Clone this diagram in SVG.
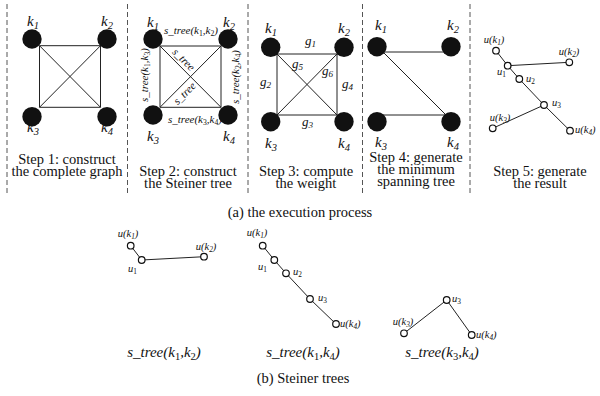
<svg xmlns="http://www.w3.org/2000/svg" width="600" height="396" viewBox="0 0 600 396" font-family="'Liberation Serif', 'Times New Roman', serif">
<style>
.dash{stroke:#555;stroke-width:1;stroke-dasharray:5 3;fill:none}
.e{stroke:#222;stroke-width:1;fill:none}
.k{fill:#111}
.o{fill:#fff;stroke:#111;stroke-width:1.2}
.cap,.kl,.st,.g,.u,.um,.bl{font-family:"Liberation Serif","Times New Roman",serif;fill:#111}
.cap{font-size:14.5px;text-anchor:middle}
.kl{font-size:15px;font-style:italic;text-anchor:middle}
.st{font-size:11px;font-style:italic;text-anchor:middle}
.g{font-size:13px;font-style:italic}
.u{font-size:10.5px;font-style:italic}
.um{font-size:10.5px;font-style:italic;text-anchor:middle}
.bl{font-size:15px;font-style:italic;text-anchor:middle}
.sb{font-size:70%}
.up{font-style:normal}
</style>
<rect width="600" height="396" fill="#fff"/>
<g id="dividers">
<line class="dash" x1="7" y1="4" x2="7" y2="194"/>
<line class="dash" x1="127.5" y1="4" x2="127.5" y2="194"/>
<line class="dash" x1="248" y1="4" x2="248" y2="194"/>
<line class="dash" x1="362.5" y1="4" x2="362.5" y2="194"/>
<line class="dash" x1="470" y1="4" x2="470" y2="194"/>
</g>
<g id="connectors">
<path class="e" d="M39.5,45.7H100.5V107.3H39.5Z M39.5,45.7L100.5,107.3 M100.5,45.7L39.5,107.3"/>
<path class="e" d="M160,46H221V107.3H160Z M160,46L221,107.3 M221,46L160,107.3"/>
<path class="e" d="M277,54H337V115H277Z M277,54L337,115 M337,54L277,115"/>
<path class="e" d="M377,52H451 M384,53L446,115 M377,115H451"/>
<path class="e" d="M496,50.7L507.7,65.7L569.3,62.3 M507.7,65.7L519.3,79L544,105L492.7,128.3 M544,105L570,130.7"/>
<path class="e" d="M130.7,245.7L141.7,260L204,256.7"/>
<path class="e" d="M262.7,245.7L274.3,260L286,273.3L310,299L336,324"/>
<path class="e" d="M404,333.3L446.7,300L471.7,335"/>
</g>
<g id="step1">
<g id="s1k1"><circle class="k" cx="32" cy="39" r="9.7"/><text class="kl" x="33" y="26">k<tspan class="sb" dy="3">1</tspan></text></g>
<g id="s1k2"><circle class="k" cx="107" cy="39" r="9.7"/><text class="kl" x="107" y="26">k<tspan class="sb" dy="3">2</tspan></text></g>
<g id="s1k3"><circle class="k" cx="32" cy="116.7" r="9.7"/><text class="kl" x="33" y="132">k<tspan class="sb" dy="3">3</tspan></text></g>
<g id="s1k4"><circle class="k" cx="107" cy="116.7" r="9.7"/><text class="kl" x="107" y="132">k<tspan class="sb" dy="3">4</tspan></text></g>
<text class="cap" x="67" y="164">Step 1: construct</text>
<text class="cap" x="67" y="176">the complete graph</text>
</g>
<g id="step2">
<g id="s2k1"><circle class="k" cx="153" cy="39" r="9.7"/><text class="kl" x="153" y="27">k<tspan class="sb" dy="3">1</tspan></text></g>
<g id="s2k2"><circle class="k" cx="228" cy="39" r="9.7"/><text class="kl" x="229" y="27">k<tspan class="sb" dy="3">2</tspan></text></g>
<g id="s2k3"><circle class="k" cx="153" cy="115" r="9.7"/><text class="kl" x="153" y="141">k<tspan class="sb" dy="3">3</tspan></text></g>
<g id="s2k4"><circle class="k" cx="228" cy="115" r="9.7"/><text class="kl" x="229" y="141">k<tspan class="sb" dy="3">4</tspan></text></g>
<text class="st" x="191" y="34">s_tree(k<tspan class="sb up" dy="2">1</tspan><tspan dy="-2">,k</tspan><tspan class="sb up" dy="2">2</tspan><tspan dy="-2">)</tspan></text>
<text class="st" transform="translate(148,75) rotate(-90)">s_tree(k<tspan class="sb up" dy="2">1</tspan><tspan dy="-2">,k</tspan><tspan class="sb up" dy="2">3</tspan><tspan dy="-2">)</tspan></text>
<text class="st" transform="translate(239,77) rotate(-90)">s_tree(k<tspan class="sb up" dy="2">2</tspan><tspan dy="-2">,k</tspan><tspan class="sb up" dy="2">4</tspan><tspan dy="-2">)</tspan></text>
<text class="st" x="195" y="123">s_tree(k<tspan class="sb up" dy="2">3</tspan><tspan dy="-2">,k</tspan><tspan class="sb up" dy="2">4</tspan><tspan dy="-2">)</tspan></text>
<text class="st" transform="translate(181,62) rotate(45)">s_tree</text>
<text class="st" transform="translate(187,96) rotate(-45)">s_tree</text>
<text class="cap" x="188" y="176">Step 2: construct</text>
<text class="cap" x="188" y="188">the Steiner tree</text>
</g>
<g id="step3">
<g id="s3k1"><circle class="k" cx="270.7" cy="47.3" r="9.7"/><text class="kl" x="271" y="33">k<tspan class="sb" dy="3">1</tspan></text></g>
<g id="s3k2"><circle class="k" cx="344" cy="47.3" r="9.7"/><text class="kl" x="344" y="33">k<tspan class="sb" dy="3">2</tspan></text></g>
<g id="s3k3"><circle class="k" cx="270.7" cy="121.7" r="9.7"/><text class="kl" x="271" y="148">k<tspan class="sb" dy="3">3</tspan></text></g>
<g id="s3k4"><circle class="k" cx="344" cy="121.7" r="9.7"/><text class="kl" x="344" y="148">k<tspan class="sb" dy="3">4</tspan></text></g>
<text class="g" x="305" y="45">g<tspan class="sb" dy="2">1</tspan></text>
<text class="g" x="292" y="68">g<tspan class="sb" dy="2">5</tspan></text>
<text class="g" x="322" y="75">g<tspan class="sb" dy="2">6</tspan></text>
<text class="g" x="260" y="86">g<tspan class="sb" dy="2">2</tspan></text>
<text class="g" x="342" y="88">g<tspan class="sb" dy="2">4</tspan></text>
<text class="g" x="302" y="126">g<tspan class="sb" dy="2">3</tspan></text>
<text class="cap" x="306" y="176">Step 3: compute</text>
<text class="cap" x="306" y="188">the weight</text>
</g>
<g id="step4">
<g id="s4k1"><circle class="k" cx="377" cy="46.7" r="9.7"/><text class="kl" x="381" y="30">k<tspan class="sb" dy="3">1</tspan></text></g>
<g id="s4k2"><circle class="k" cx="451" cy="46.7" r="9.7"/><text class="kl" x="453" y="30">k<tspan class="sb" dy="3">2</tspan></text></g>
<g id="s4k3"><circle class="k" cx="377" cy="121.7" r="9.7"/><text class="kl" x="381" y="147">k<tspan class="sb" dy="3">3</tspan></text></g>
<g id="s4k4"><circle class="k" cx="451" cy="121.7" r="9.7"/><text class="kl" x="453" y="147">k<tspan class="sb" dy="3">4</tspan></text></g>
<text class="cap" x="416" y="162">Step 4: generate</text>
<text class="cap" x="416" y="174">the minimum</text>
<text class="cap" x="416" y="186">spanning tree</text>
</g>
<g id="step5">
<g id="r_uk1"><circle class="o" cx="496" cy="50.7" r="3.3"/><text class="um" x="494" y="43">u(k<tspan class="sb" dy="2">1</tspan><tspan dy="-2">)</tspan></text></g>
<g id="r_u1"><circle class="o" cx="507.7" cy="65.7" r="3.3"/><text class="u" x="497" y="75">u<tspan class="sb up" dy="2">1</tspan></text></g>
<g id="r_uk2"><circle class="o" cx="569.3" cy="62.3" r="3.3"/><text class="um" x="569" y="55">u(k<tspan class="sb" dy="2">2</tspan><tspan dy="-2">)</tspan></text></g>
<g id="r_u2"><circle class="o" cx="519.3" cy="79" r="3.3"/><text class="u" x="526" y="82">u<tspan class="sb up" dy="2">2</tspan></text></g>
<g id="r_u3"><circle class="o" cx="544" cy="105" r="3.3"/><text class="u" x="552" y="106">u<tspan class="sb up" dy="2">3</tspan></text></g>
<g id="r_uk3"><circle class="o" cx="492.7" cy="128.3" r="3.3"/><text class="um" x="500" y="121">u(k<tspan class="sb" dy="2">3</tspan><tspan dy="-2">)</tspan></text></g>
<g id="r_uk4"><circle class="o" cx="570" cy="130.7" r="3.3"/><text class="u" x="575" y="133">u(k<tspan class="sb" dy="2">4</tspan><tspan dy="-2">)</tspan></text></g>
<text class="cap" x="540" y="176">Step 5: generate</text>
<text class="cap" x="540" y="188">the result</text>
</g>
<text class="cap" x="300" y="217">(a) the execution process</text>
<g id="tree1">
<g id="t1_uk1"><circle class="o" cx="130.7" cy="245.7" r="3.3"/><text class="um" x="128" y="237">u(k<tspan class="sb" dy="2">1</tspan><tspan dy="-2">)</tspan></text></g>
<g id="t1_u1"><circle class="o" cx="141.7" cy="260" r="3.3"/><text class="u" x="128" y="272">u<tspan class="sb up" dy="2">1</tspan></text></g>
<g id="t1_uk2"><circle class="o" cx="204" cy="256.7" r="3.3"/><text class="um" x="206" y="250">u(k<tspan class="sb" dy="2">2</tspan><tspan dy="-2">)</tspan></text></g>
<text class="bl" x="164" y="357">s_tree(k<tspan class="sb up" dy="3">1</tspan><tspan dy="-3">,k</tspan><tspan class="sb up" dy="3">2</tspan><tspan dy="-3">)</tspan></text>
</g>
<g id="tree2">
<g id="t2_uk1"><circle class="o" cx="262.7" cy="245.7" r="3.3"/><text class="um" x="257" y="236">u(k<tspan class="sb" dy="2">1</tspan><tspan dy="-2">)</tspan></text></g>
<g id="t2_u1"><circle class="o" cx="274.3" cy="260" r="3.3"/><text class="u" x="258" y="270">u<tspan class="sb up" dy="2">1</tspan></text></g>
<g id="t2_u2"><circle class="o" cx="286" cy="273.3" r="3.3"/><text class="u" x="293" y="275">u<tspan class="sb up" dy="2">2</tspan></text></g>
<g id="t2_u3"><circle class="o" cx="310" cy="299" r="3.3"/><text class="u" x="318" y="301">u<tspan class="sb up" dy="2">3</tspan></text></g>
<g id="t2_uk4"><circle class="o" cx="336" cy="324" r="3.3"/><text class="u" x="340" y="327">u(k<tspan class="sb" dy="2">4</tspan><tspan dy="-2">)</tspan></text></g>
<text class="bl" x="303" y="357">s_tree(k<tspan class="sb up" dy="3">1</tspan><tspan dy="-3">,k</tspan><tspan class="sb up" dy="3">4</tspan><tspan dy="-3">)</tspan></text>
</g>
<g id="tree3">
<g id="t3_uk3"><circle class="o" cx="404" cy="333.3" r="3.3"/><text class="um" x="403" y="325">u(k<tspan class="sb" dy="2">3</tspan><tspan dy="-2">)</tspan></text></g>
<g id="t3_u3"><circle class="o" cx="446.7" cy="300" r="3.3"/><text class="u" x="452" y="302">u<tspan class="sb up" dy="2">3</tspan></text></g>
<g id="t3_uk4"><circle class="o" cx="471.7" cy="335" r="3.3"/><text class="u" x="476" y="338">u(k<tspan class="sb" dy="2">4</tspan><tspan dy="-2">)</tspan></text></g>
<text class="bl" x="442" y="357">s_tree(k<tspan class="sb up" dy="3">3</tspan><tspan dy="-3">,k</tspan><tspan class="sb up" dy="3">4</tspan><tspan dy="-3">)</tspan></text>
</g>
<text class="cap" x="303" y="383">(b) Steiner trees</text>
</svg>
